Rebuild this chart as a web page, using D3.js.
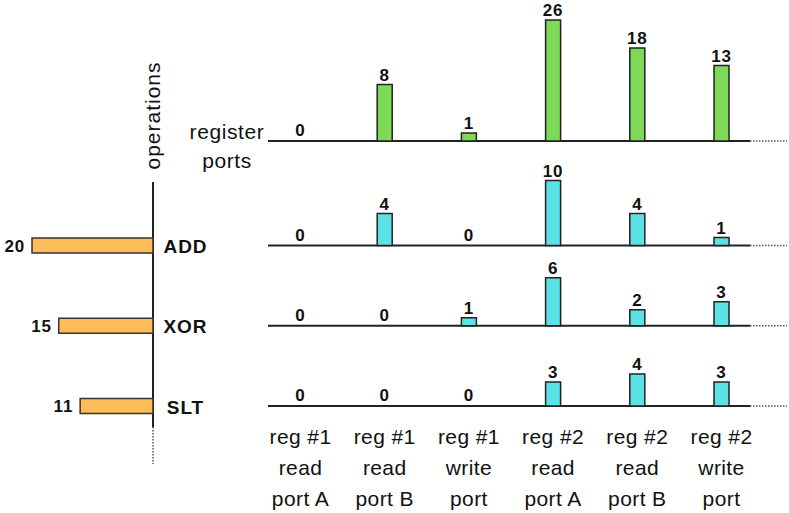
<!DOCTYPE html>
<html>
<head>
<meta charset="utf-8">
<script src="https://cdn.jsdelivr.net/npm/d3@7"></script>
<style>
  body { margin: 0; background: #fff; }
  text { font-family: "Liberation Sans", Arial, sans-serif; fill: #111; }
</style>
</head>
<body>
<script>
// data
var ports = ["r1a", "r1b", "r1w", "r2a", "r2b", "r2w"];
var portLabels = [["reg #1", "read", "port A"], ["reg #1", "read", "port B"], ["reg #1", "write", "port"],
                  ["reg #2", "read", "port A"], ["reg #2", "read", "port B"], ["reg #2", "write", "port"]];
var registerPorts = [0, 8, 1, 26, 18, 13];
var operations = ["ADD", "XOR", "SLT"];
var operationCounts = [20, 15, 11];
var addPorts = [0, 4, 0, 10, 4, 1];
var xorPorts = [0, 0, 1, 6, 2, 3];
var sltPorts = [0, 0, 0, 3, 4, 3];
var opPorts = [addPorts, xorPorts, sltPorts];

var width = 789, height = 513;

var svg = d3.select("body")
            .append("svg")
            .attr("width", width)
            .attr("height", height);

var x = d3.scalePoint().domain(ports).range([300.5, 721.5]);
var rowY = d3.scalePoint().domain(operations).range([245.5, 406]);
var topY = 141;
// bar heights are compressed for the tall bars
var h = d3.scaleLinear().domain([0, 6, 10, 26]).range([0, 48, 65, 121]);
var opW = d3.scaleLinear().domain([0, 20]).range([14, 121]);

var axisX0 = 268, axisX1 = 750, axisX2 = 787, opAxisX = 153;
var barW = 15;

function panel(base, values, color) {
  var g = svg.append("g");
  g.append("line")
   .attr("x1", axisX0).attr("x2", axisX1)
   .attr("y1", base).attr("y2", base)
   .attr("stroke", "#222").attr("stroke-width", 2);
  g.append("line")
   .attr("x1", axisX1).attr("x2", axisX2)
   .attr("y1", base).attr("y2", base)
   .attr("stroke", "#555").attr("stroke-width", 1.5)
   .attr("stroke-dasharray", "1.5,1.5");

  var d = values.map(function(v, i){ return {port: ports[i], v: v}; });

  g.selectAll("rect")
   .data(d.filter(function(e){ return e.v > 0; }))
   .enter().append("rect")
   .attr("x", function(e){ return x(e.port) - barW/2; })
   .attr("y", function(e){ return base - h(e.v); })
   .attr("width", barW)
   .attr("height", function(e){ return h(e.v); })
   .attr("fill", color)
   .attr("stroke", "#222")
   .attr("stroke-width", 1.5);

  g.selectAll("text")
   .data(d)
   .enter().append("text")
   .attr("x", function(e){ return x(e.port); })
   .attr("y", function(e){ return base - h(e.v) - (e.v > 0 ? 4 : 5); })
   .attr("text-anchor", "middle")
   .style("font-size", "17px")
   .style("font-weight", "bold")
   .style("letter-spacing", "0.8px")
   .text(function(e){ return e.v; });
}

panel(topY, registerPorts, "#7ed957");
operations.forEach(function(op, i){
  panel(rowY(op), opPorts[i], "#5ce1e6");
});

// operations axis
svg.append("line")
   .attr("x1", opAxisX).attr("x2", opAxisX)
   .attr("y1", 182).attr("y2", 427)
   .attr("stroke", "#222").attr("stroke-width", 2);
svg.append("line")
   .attr("x1", opAxisX).attr("x2", opAxisX)
   .attr("y1", 427).attr("y2", 464)
   .attr("stroke", "#555").attr("stroke-width", 1.5)
   .attr("stroke-dasharray", "1.5,1.5");

var ops = operations.map(function(op, i){ return {op: op, v: operationCounts[i]}; });

svg.selectAll(".opbar")
   .data(ops)
   .enter().append("rect")
   .attr("class", "opbar")
   .attr("x", function(d){ return opAxisX - opW(d.v); })
   .attr("y", function(d){ return rowY(d.op) - 7.5; })
   .attr("width", function(d){ return opW(d.v); })
   .attr("height", 15)
   .attr("fill", "#ffbd59")
   .attr("stroke", "#333")
   .attr("stroke-width", 1.5);

svg.selectAll(".opval")
   .data(ops)
   .enter().append("text")
   .attr("class", "opval")
   .attr("x", function(d){ return opAxisX - opW(d.v) - 7; })
   .attr("y", function(d){ return rowY(d.op) + 6; })
   .attr("text-anchor", "end")
   .style("font-size", "17px")
   .style("font-weight", "bold")
   .style("letter-spacing", "0.8px")
   .text(function(d){ return d.v; });

svg.selectAll(".opname")
   .data(ops)
   .enter().append("text")
   .attr("class", "opname")
   .attr("x", 185.5)
   .attr("y", function(d){ return rowY(d.op) + 7.5; })
   .attr("text-anchor", "middle")
   .style("font-size", "19px")
   .style("font-weight", "bold")
   .style("letter-spacing", "1px")
   .text(function(d){ return d.op; });

// titles
svg.append("text")
   .attr("transform", "translate(160,115.5) rotate(-90)")
   .attr("text-anchor", "middle")
   .style("font-size", "21px")
   .style("letter-spacing", "1px")
   .text("operations");

var rp = svg.append("text")
   .attr("text-anchor", "middle")
   .style("font-size", "21px")
   .style("letter-spacing", "0.6px");
rp.append("tspan").attr("x", 227).attr("y", 139).text("register");
rp.append("tspan").attr("x", 227).attr("y", 168).text("ports");

// port labels
ports.forEach(function(p, i){
  var t = svg.append("text")
     .attr("text-anchor", "middle")
     .style("font-size", "21px")
     .style("letter-spacing", "0.4px");
  portLabels[i].forEach(function(line, j){
    t.append("tspan").attr("x", x(p)).attr("y", 444 + j * 31).text(line);
  });
});
</script>
</body>
</html>
